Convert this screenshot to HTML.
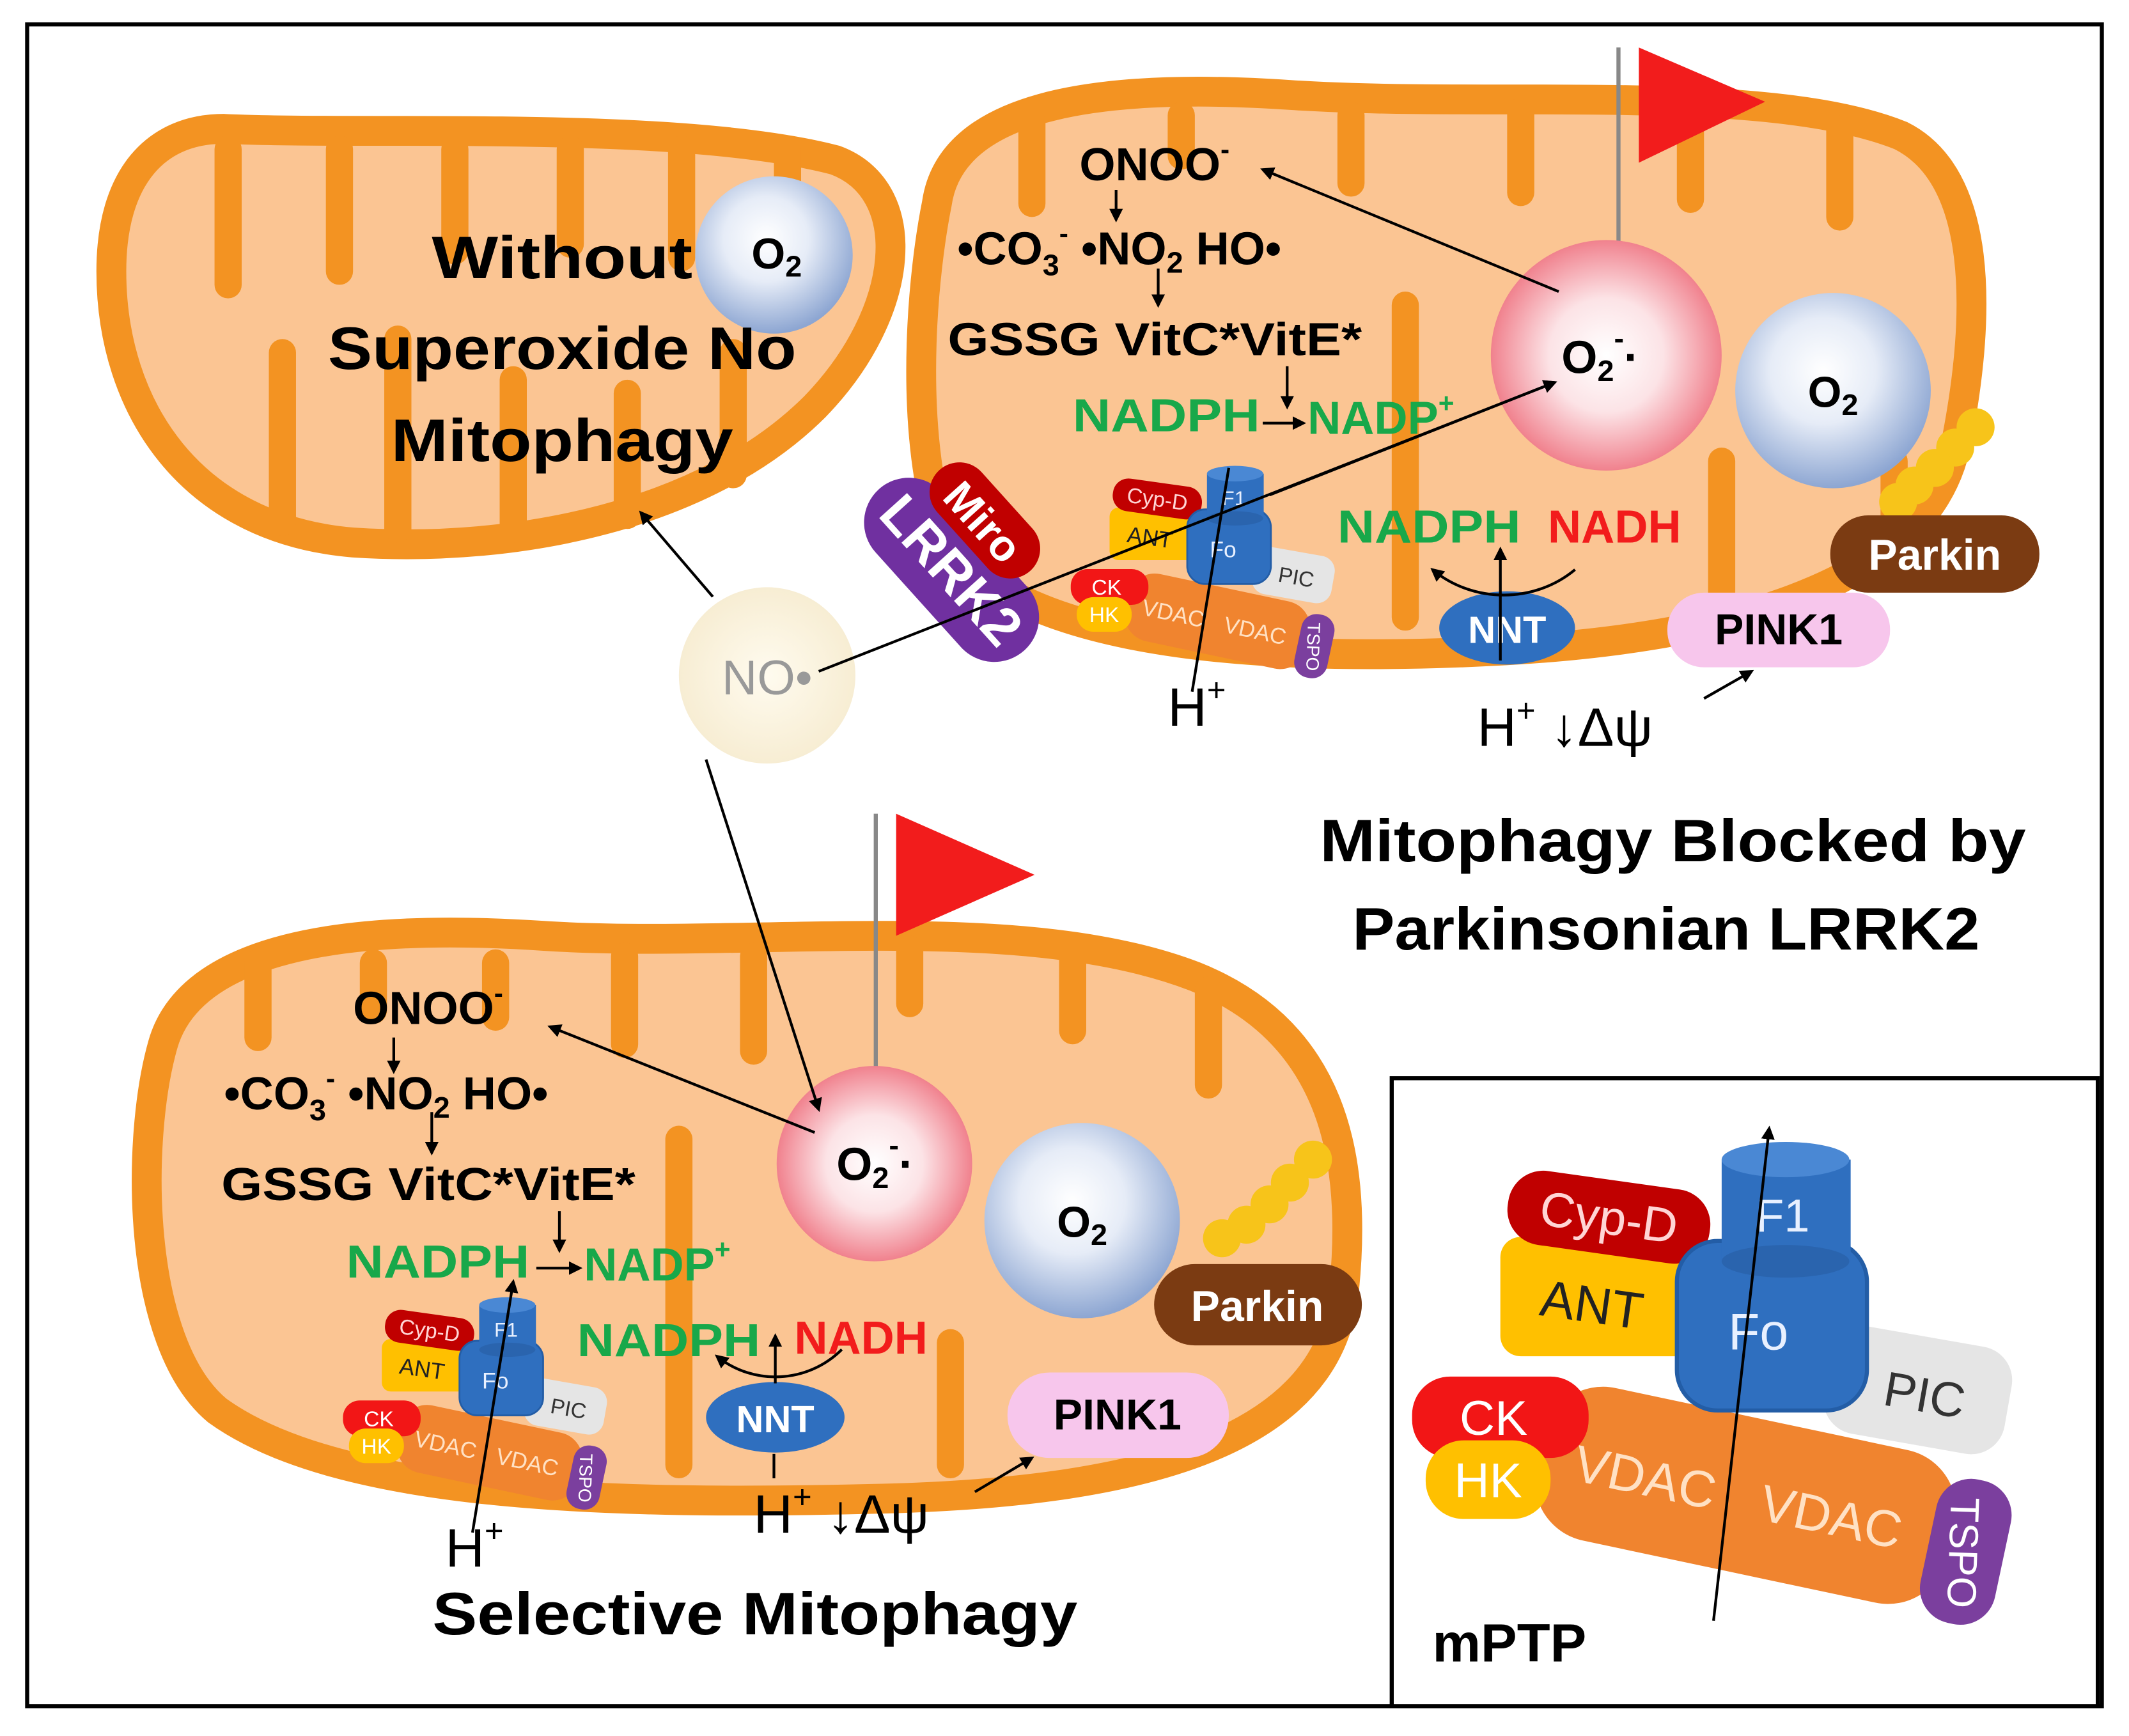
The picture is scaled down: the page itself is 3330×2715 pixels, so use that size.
<!DOCTYPE html>
<html><head><meta charset="utf-8"><style>
html,body{margin:0;padding:0;background:#fff}
svg{display:block}
text{font-family:"Liberation Sans",sans-serif}
.b{font-weight:bold}
</style></head><body>
<svg width="3330" height="2715" viewBox="0 0 1568 1280" preserveAspectRatio="none" xmlns="http://www.w3.org/2000/svg">
<defs>
<radialGradient id="gb" cx="0.45" cy="0.4" r="0.6"><stop offset="0" stop-color="#fff"/><stop offset="0.45" stop-color="#E6ECF7"/><stop offset="1" stop-color="#8DA6D2"/></radialGradient>
<radialGradient id="gr" cx="0.5" cy="0.5" r="0.55"><stop offset="0" stop-color="#fff"/><stop offset="0.45" stop-color="#FCE3E6"/><stop offset="1" stop-color="#EE6E7C"/></radialGradient>
<radialGradient id="gn" cx="0.5" cy="0.5" r="0.5"><stop offset="0" stop-color="#FFFBEF"/><stop offset="1" stop-color="#F7EDD3"/></radialGradient>
<marker id="ah" markerWidth="10" markerHeight="10" refX="8" refY="5" orient="auto" markerUnits="userSpaceOnUse"><path d="M0,0 L10,5 L0,10 Z" fill="#000"/></marker>
</defs>
<rect x="20" y="18" width="1528" height="1240" fill="#fff" stroke="#000" stroke-width="3"/>

<!-- Mito 1 -->
<path d="M 82,200 C 82,130 115,95 165,95 C 270,100 500,88 615,118 C 675,140 668,230 600,300 C 520,380 380,408 260,400 C 140,390 82,300 82,200 Z" fill="#FBC593" stroke="#F39322" stroke-width="22"/>
<g fill="#F39322">
<rect x="158" y="100" width="20" height="120" rx="10"/><rect x="240" y="100" width="20" height="110" rx="10"/><rect x="325" y="100" width="20" height="95" rx="10"/><rect x="410" y="100" width="20" height="90" rx="10"/><rect x="492" y="100" width="20" height="100" rx="10"/><rect x="570" y="100" width="20" height="110" rx="10"/>
<rect x="198" y="250" width="20" height="145" rx="10"/><rect x="283" y="240" width="20" height="160" rx="10"/><rect x="368" y="270" width="20" height="130" rx="10"/><rect x="452" y="280" width="20" height="110" rx="10"/><rect x="530" y="250" width="20" height="110" rx="10"/>
</g>
<circle cx="570" cy="188" r="58" fill="url(#gb)"/>
<text x="572" y="198" font-size="32" class="b" text-anchor="middle">O<tspan font-size="22" dy="6">2</tspan></text>
<text x="414" y="205" font-size="44" class="b" text-anchor="middle" textLength="192" lengthAdjust="spacingAndGlyphs">Without</text>
<text x="414" y="272" font-size="44" class="b" text-anchor="middle" textLength="345" lengthAdjust="spacingAndGlyphs">Superoxide No</text>
<text x="414" y="340" font-size="44" class="b" text-anchor="middle" textLength="252" lengthAdjust="spacingAndGlyphs">Mitophagy</text>

<!-- Mito 2 -->
<path d="M 690,150 C 700,80 800,60 950,70 C 1100,80 1300,60 1400,100 C 1460,130 1460,230 1440,330 C 1420,420 1300,470 1100,480 C 900,490 720,470 690,380 C 670,300 680,200 690,150 Z" fill="#FBC593" stroke="#F39322" stroke-width="22"/>
<g fill="#F39322">
<rect x="750" y="80" width="20" height="80" rx="10"/><rect x="860" y="75" width="20" height="50" rx="10"/><rect x="985" y="75" width="20" height="70" rx="10"/><rect x="1110" y="72" width="20" height="80" rx="10"/><rect x="1235" y="72" width="20" height="85" rx="10"/><rect x="1345" y="85" width="20" height="85" rx="10"/>
<rect x="1025" y="215" width="20" height="250" rx="10"/><rect x="1258" y="330" width="20" height="130" rx="10"/><rect x="1385" y="330" width="20" height="90" rx="10"/>
</g>
<line x1="1192" y1="35" x2="1192" y2="215" stroke="#888" stroke-width="3"/>
<path d="M1207,35 L1300,75 L1207,120 Z" fill="#F21C1C"/>
<circle cx="1183" cy="262" r="85" fill="url(#gr)"/>
<text x="1150" y="275" font-size="34" class="b">O<tspan font-size="22" dy="6">2</tspan><tspan font-size="22" dy="-24">-</tspan><tspan dy="18">·</tspan></text>
<circle cx="1350" cy="288" r="72" fill="url(#gb)"/>
<text x="1350" y="300" font-size="32" class="b" text-anchor="middle">O<tspan font-size="22" dy="6">2</tspan></text>
<g fill="#F7C41A"><circle cx="1455" cy="315" r="14"/><circle cx="1440" cy="330" r="14"/><circle cx="1425" cy="345" r="14"/><circle cx="1410" cy="358" r="14"/><circle cx="1398" cy="370" r="14"/></g>
<rect x="1348" y="380" width="154" height="57" rx="28" fill="#7B3B12"/>
<text x="1425" y="420" font-size="32" class="b" fill="#fff" text-anchor="middle">Parkin</text>
<rect x="1228" y="437" width="164" height="55" rx="27" fill="#F7C6EC"/>
<text x="1310" y="475" font-size="32" class="b" text-anchor="middle">PINK1</text>
<ellipse cx="1110" cy="463" rx="50" ry="27" fill="#2F6FBF"/>
<text x="1110" y="474" font-size="28" class="b" fill="#fff" text-anchor="middle">NNT</text>
<text x="795" y="133" font-size="34" class="b">ONOO<tspan font-size="20" dy="-16">-</tspan></text>
<text x="705" y="195" font-size="34" class="b">•CO<tspan font-size="22" dy="8">3</tspan><tspan font-size="20" dy="-24">-</tspan><tspan dy="16"> •NO</tspan><tspan font-size="22" dy="6">2</tspan><tspan dy="-6"> HO•</tspan></text>
<text x="698" y="262" font-size="34" class="b" textLength="305" lengthAdjust="spacingAndGlyphs">GSSG VitC*VitE*</text>
<text x="790" y="318" font-size="34" class="b" fill="#18A84A" textLength="138" lengthAdjust="spacingAndGlyphs">NADPH</text>
<text x="963" y="320" font-size="34" class="b" fill="#18A84A">NADP<tspan font-size="20" dy="-16">+</tspan></text>
<text x="985" y="400" font-size="34" class="b" fill="#18A84A" textLength="135" lengthAdjust="spacingAndGlyphs">NADPH</text>
<text x="1140" y="400" font-size="34" class="b" fill="#F21C1C">NADH</text>
<text x="860" y="535" font-size="40">H<tspan font-size="24" dy="-18">+</tspan></text>
<text x="1088" y="550" font-size="40">H<tspan font-size="24" dy="-18">+</tspan><tspan dy="18"> ↓Δψ</tspan></text>

<!-- Miro / LRRK2 -->
<g transform="rotate(48 698 420)"><rect x="620" y="385" width="160" height="66" rx="33" fill="#7030A0"/><text x="700" y="432" font-size="40" class="b" fill="#fff" text-anchor="middle">LRRK2</text></g>
<g transform="rotate(48 722 380)"><rect x="677" y="358" width="100" height="44" rx="22" fill="#C00000"/><text x="727" y="393" font-size="32" class="b" fill="#fff" text-anchor="middle">Miro</text></g>

<!-- NO -->
<circle cx="565" cy="498" r="65" fill="url(#gn)"/>
<text x="565" y="512" font-size="36" fill="#999" text-anchor="middle">NO•</text>

<text x="1232" y="635" font-size="44" class="b" text-anchor="middle" textLength="520" lengthAdjust="spacingAndGlyphs">Mitophagy Blocked by</text>
<text x="1227" y="700" font-size="44" class="b" text-anchor="middle" textLength="462" lengthAdjust="spacingAndGlyphs">Parkinsonian LRRK2</text>

<!-- Mito 3 -->
<path d="M 120,770 C 140,700 250,680 400,690 C 550,700 750,670 880,720 C 980,760 1000,850 990,950 C 980,1060 850,1100 650,1105 C 450,1110 250,1105 160,1040 C 100,990 100,840 120,770 Z" fill="#FBC593" stroke="#F39322" stroke-width="22"/>
<g fill="#F39322">
<rect x="180" y="700" width="20" height="75" rx="10"/><rect x="265" y="700" width="20" height="55" rx="10"/><rect x="355" y="700" width="20" height="60" rx="10"/><rect x="450" y="695" width="20" height="85" rx="10"/><rect x="545" y="695" width="20" height="90" rx="10"/><rect x="660" y="690" width="20" height="60" rx="10"/><rect x="780" y="690" width="20" height="80" rx="10"/><rect x="880" y="720" width="20" height="90" rx="10"/>
<rect x="490" y="830" width="20" height="260" rx="10"/><rect x="690" y="980" width="20" height="110" rx="10"/>
</g>
<line x1="645" y1="600" x2="645" y2="795" stroke="#888" stroke-width="3"/>
<path d="M660,600 L762,645 L660,690 Z" fill="#F21C1C"/>
<circle cx="644" cy="858" r="72" fill="url(#gr)"/>
<text x="616" y="870" font-size="34" class="b">O<tspan font-size="22" dy="6">2</tspan><tspan font-size="22" dy="-24">-</tspan><tspan dy="18">·</tspan></text>
<circle cx="797" cy="900" r="72" fill="url(#gb)"/>
<text x="797" y="912" font-size="32" class="b" text-anchor="middle">O<tspan font-size="22" dy="6">2</tspan></text>
<g fill="#F7C41A"><circle cx="967" cy="855" r="14"/><circle cx="950" cy="872" r="14"/><circle cx="935" cy="888" r="14"/><circle cx="918" cy="903" r="14"/><circle cx="900" cy="913" r="14"/></g>
<rect x="850" y="932" width="153" height="60" rx="30" fill="#7B3B12"/>
<text x="926" y="974" font-size="32" class="b" fill="#fff" text-anchor="middle">Parkin</text>
<rect x="742" y="1012" width="163" height="63" rx="31" fill="#F7C6EC"/>
<text x="823" y="1054" font-size="32" class="b" text-anchor="middle">PINK1</text>
<ellipse cx="571" cy="1045" rx="51" ry="26" fill="#2F6FBF"/>
<text x="571" y="1056" font-size="28" class="b" fill="#fff" text-anchor="middle">NNT</text>
<text x="260" y="755" font-size="34" class="b">ONOO<tspan font-size="20" dy="-16">-</tspan></text>
<text x="165" y="818" font-size="34" class="b">•CO<tspan font-size="22" dy="8">3</tspan><tspan font-size="20" dy="-24">-</tspan><tspan dy="16"> •NO</tspan><tspan font-size="22" dy="6">2</tspan><tspan dy="-6"> HO•</tspan></text>
<text x="163" y="885" font-size="34" class="b" textLength="305" lengthAdjust="spacingAndGlyphs">GSSG VitC*VitE*</text>
<text x="255" y="942" font-size="34" class="b" fill="#18A84A" textLength="135" lengthAdjust="spacingAndGlyphs">NADPH</text>
<text x="430" y="944" font-size="34" class="b" fill="#18A84A">NADP<tspan font-size="20" dy="-16">+</tspan></text>
<text x="425" y="1000" font-size="34" class="b" fill="#18A84A" textLength="135" lengthAdjust="spacingAndGlyphs">NADPH</text>
<text x="585" y="998" font-size="34" class="b" fill="#F21C1C">NADH</text>
<text x="328" y="1155" font-size="40">H<tspan font-size="24" dy="-18">+</tspan></text>
<text x="555" y="1130" font-size="40">H<tspan font-size="24" dy="-18">+</tspan><tspan dy="18"> ↓Δψ</tspan></text>
<text x="556" y="1205" font-size="44" class="b" text-anchor="middle" textLength="475" lengthAdjust="spacingAndGlyphs">Selective Mitophagy</text>

<!-- Inset box -->
<rect x="1025" y="795" width="520" height="463" fill="#fff" stroke="#000" stroke-width="3"/>
<text x="1055" y="1225" font-size="40" class="b">mPTP</text>

<g>
<g transform="rotate(12 1285 1105)"><rect x="1130" y="1045" width="310" height="115" rx="45" fill="#F0842F"/><text x="1210" y="1118" font-size="38" fill="#FFE1C4" text-anchor="middle">VDAC</text><text x="1350" y="1118" font-size="38" fill="#FFE1C4" text-anchor="middle">VDAC</text></g>
<g transform="rotate(12 1447 1143)"><rect x="1420" y="1090" width="56" height="108" rx="26" fill="#7B3F9E"/><text x="1447" y="1156" font-size="30" fill="#fff" text-anchor="middle" transform="rotate(80 1447 1145)">TSPO</text></g>
<rect x="1040" y="1015" width="130" height="60" rx="28" fill="#F21616"/>
<text x="1100" y="1058" font-size="36" fill="#fff" text-anchor="middle">CK</text>
<rect x="1050" y="1062" width="92" height="58" rx="28" fill="#FFC000"/>
<text x="1096" y="1104" font-size="36" fill="#fff" text-anchor="middle">HK</text>
<g transform="rotate(10 1412 1025)"><rect x="1345" y="985" width="135" height="80" rx="25" fill="#E5E5E5"/><text x="1418" y="1040" font-size="36" fill="#333" text-anchor="middle">PIC</text></g>
<rect x="1105" y="912" width="145" height="88" rx="15" fill="#FFC000"/>
<text x="1172" y="975" font-size="38" fill="#222" text-anchor="middle" transform="rotate(8 1172 965)">ANT</text>
<g transform="rotate(8 1185 897)"><rect x="1110" y="870" width="150" height="55" rx="26" fill="#C00000"/><text x="1185" y="910" font-size="36" fill="#FFD5D5" text-anchor="middle">Cyp-D</text></g>
<rect x="1235" y="915" width="140" height="125" rx="30" fill="#2F6FBF" stroke="#235DA6" stroke-width="3"/>
<text x="1295" y="995" font-size="38" fill="#E8F0FF" text-anchor="middle">Fo</text>
<rect x="1268" y="855" width="95" height="75" fill="#2F6FBF"/>
<ellipse cx="1315" cy="930" rx="47" ry="12" fill="#2A64AE"/>
<ellipse cx="1315" cy="855" rx="47" ry="13" fill="#4A88D4"/>
<text x="1313" y="908" font-size="34" fill="#E8F0FF" text-anchor="middle">F1</text>
</g>
<line x1="1262" y1="1195" x2="1303" y2="832" stroke="#000" stroke-width="2" marker-end="url(#ah)"/>

<g transform="translate(331 -27) scale(0.44)">
<g transform="rotate(12 1285 1105)"><rect x="1130" y="1045" width="310" height="115" rx="45" fill="#F0842F"/><text x="1210" y="1118" font-size="38" fill="#FFE1C4" text-anchor="middle">VDAC</text><text x="1350" y="1118" font-size="38" fill="#FFE1C4" text-anchor="middle">VDAC</text></g>
<g transform="rotate(12 1447 1143)"><rect x="1420" y="1090" width="56" height="108" rx="26" fill="#7B3F9E"/><text x="1447" y="1156" font-size="30" fill="#fff" text-anchor="middle" transform="rotate(80 1447 1145)">TSPO</text></g>
<rect x="1040" y="1015" width="130" height="60" rx="28" fill="#F21616"/>
<text x="1100" y="1058" font-size="36" fill="#fff" text-anchor="middle">CK</text>
<rect x="1050" y="1062" width="92" height="58" rx="28" fill="#FFC000"/>
<text x="1096" y="1104" font-size="36" fill="#fff" text-anchor="middle">HK</text>
<g transform="rotate(10 1412 1025)"><rect x="1345" y="985" width="135" height="80" rx="25" fill="#E5E5E5"/><text x="1418" y="1040" font-size="36" fill="#333" text-anchor="middle">PIC</text></g>
<rect x="1105" y="912" width="145" height="88" rx="15" fill="#FFC000"/>
<text x="1172" y="975" font-size="38" fill="#222" text-anchor="middle" transform="rotate(8 1172 965)">ANT</text>
<g transform="rotate(8 1185 897)"><rect x="1110" y="870" width="150" height="55" rx="26" fill="#C00000"/><text x="1185" y="910" font-size="36" fill="#FFD5D5" text-anchor="middle">Cyp-D</text></g>
<rect x="1235" y="915" width="140" height="125" rx="30" fill="#2F6FBF" stroke="#235DA6" stroke-width="3"/>
<text x="1295" y="995" font-size="38" fill="#E8F0FF" text-anchor="middle">Fo</text>
<rect x="1268" y="855" width="95" height="75" fill="#2F6FBF"/>
<ellipse cx="1315" cy="930" rx="47" ry="12" fill="#2A64AE"/>
<ellipse cx="1315" cy="855" rx="47" ry="13" fill="#4A88D4"/>
<text x="1313" y="908" font-size="34" fill="#E8F0FF" text-anchor="middle">F1</text>
</g>
<g transform="translate(-205 586) scale(0.44)">
<g transform="rotate(12 1285 1105)"><rect x="1130" y="1045" width="310" height="115" rx="45" fill="#F0842F"/><text x="1210" y="1118" font-size="38" fill="#FFE1C4" text-anchor="middle">VDAC</text><text x="1350" y="1118" font-size="38" fill="#FFE1C4" text-anchor="middle">VDAC</text></g>
<g transform="rotate(12 1447 1143)"><rect x="1420" y="1090" width="56" height="108" rx="26" fill="#7B3F9E"/><text x="1447" y="1156" font-size="30" fill="#fff" text-anchor="middle" transform="rotate(80 1447 1145)">TSPO</text></g>
<rect x="1040" y="1015" width="130" height="60" rx="28" fill="#F21616"/>
<text x="1100" y="1058" font-size="36" fill="#fff" text-anchor="middle">CK</text>
<rect x="1050" y="1062" width="92" height="58" rx="28" fill="#FFC000"/>
<text x="1096" y="1104" font-size="36" fill="#fff" text-anchor="middle">HK</text>
<g transform="rotate(10 1412 1025)"><rect x="1345" y="985" width="135" height="80" rx="25" fill="#E5E5E5"/><text x="1418" y="1040" font-size="36" fill="#333" text-anchor="middle">PIC</text></g>
<rect x="1105" y="912" width="145" height="88" rx="15" fill="#FFC000"/>
<text x="1172" y="975" font-size="38" fill="#222" text-anchor="middle" transform="rotate(8 1172 965)">ANT</text>
<g transform="rotate(8 1185 897)"><rect x="1110" y="870" width="150" height="55" rx="26" fill="#C00000"/><text x="1185" y="910" font-size="36" fill="#FFD5D5" text-anchor="middle">Cyp-D</text></g>
<rect x="1235" y="915" width="140" height="125" rx="30" fill="#2F6FBF" stroke="#235DA6" stroke-width="3"/>
<text x="1295" y="995" font-size="38" fill="#E8F0FF" text-anchor="middle">Fo</text>
<rect x="1268" y="855" width="95" height="75" fill="#2F6FBF"/>
<ellipse cx="1315" cy="930" rx="47" ry="12" fill="#2A64AE"/>
<ellipse cx="1315" cy="855" rx="47" ry="13" fill="#4A88D4"/>
<text x="1313" y="908" font-size="34" fill="#E8F0FF" text-anchor="middle">F1</text>
</g>

<!-- all connectors on top -->
<g stroke="#000" stroke-width="2" fill="none">
<line x1="822" y1="140" x2="822" y2="162" marker-end="url(#ah)"/>
<line x1="853" y1="198" x2="853" y2="225" marker-end="url(#ah)"/>
<line x1="948" y1="270" x2="948" y2="300" marker-end="url(#ah)"/>
<line x1="930" y1="312" x2="960" y2="312" marker-end="url(#ah)"/>
<line x1="1148" y1="215" x2="930" y2="125" marker-end="url(#ah)"/>
<line x1="935" y1="365" x2="1145" y2="282" marker-end="url(#ah)"/>
<line x1="1105" y1="487" x2="1105" y2="405" marker-end="url(#ah)"/>
<path d="M1160,420 C1130,445 1085,445 1055,420" marker-end="url(#ah)"/>
<line x1="1255" y1="515" x2="1290" y2="495" marker-end="url(#ah)"/>
<line x1="878" y1="510" x2="905" y2="345"/>
<line x1="525" y1="440" x2="472" y2="378" marker-end="url(#ah)"/>
<line x1="520" y1="560" x2="603" y2="818" marker-end="url(#ah)"/>
<line x1="603" y1="495" x2="1145" y2="282" marker-end="url(#ah)"/>
<line x1="290" y1="765" x2="290" y2="790" marker-end="url(#ah)"/>
<line x1="318" y1="820" x2="318" y2="850" marker-end="url(#ah)"/>
<line x1="412" y1="893" x2="412" y2="922" marker-end="url(#ah)"/>
<line x1="395" y1="935" x2="427" y2="935" marker-end="url(#ah)"/>
<line x1="600" y1="835" x2="405" y2="757" marker-end="url(#ah)"/>
<line x1="571" y1="1020" x2="571" y2="985" marker-end="url(#ah)"/>
<path d="M620,995 C595,1020 555,1022 528,1000" marker-end="url(#ah)"/>
<line x1="718" y1="1100" x2="760" y2="1075" marker-end="url(#ah)"/>
<line x1="570" y1="1072" x2="570" y2="1090"/>
<line x1="348" y1="1130" x2="378" y2="945" marker-end="url(#ah)"/>
</g>
</svg>
</body></html>
